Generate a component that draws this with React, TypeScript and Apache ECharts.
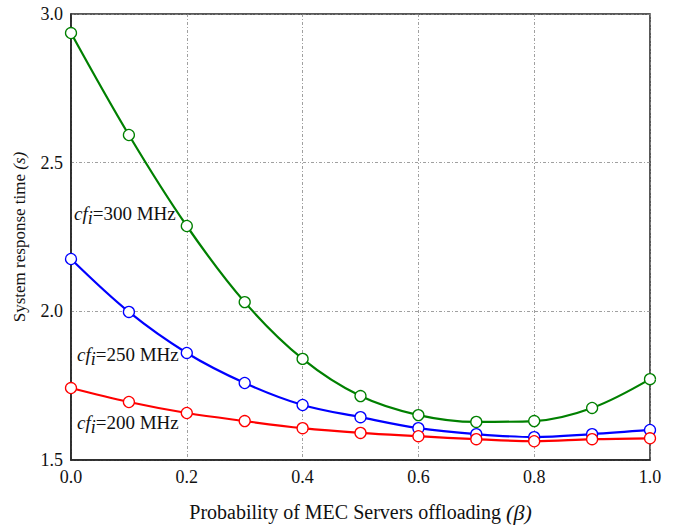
import React, { useEffect, useRef } from "react";
import * as echarts from "echarts";

const beta = [0.0, 0.1, 0.2, 0.3, 0.4, 0.5, 0.6, 0.7, 0.8, 0.9, 1.0];
const cf300 = [2.936, 2.593, 2.287, 2.031, 1.84, 1.715, 1.651, 1.628, 1.631, 1.675, 1.772];
const cf250 = [2.176, 1.998, 1.86, 1.759, 1.685, 1.644, 1.607, 1.587, 1.577, 1.587, 1.601];
const cf200 = [1.742, 1.695, 1.658, 1.631, 1.607, 1.591, 1.58, 1.57, 1.563, 1.57, 1.573];
const xTicks = [0.0, 0.2, 0.4, 0.6, 0.8, 1.0];
const yTicks = [1.5, 2.0, 2.5, 3.0];

const FONT = "Liberation Serif, DejaVu Serif, serif";

export default function App() {
  const ref = useRef<HTMLDivElement>(null);
  useEffect(() => {
    const chart = echarts.init(ref.current!, null, { renderer: "svg" });
    const mk = (name: string, data: number[], color: string) => ({
      name,
      type: "line",
      smooth: 0.35,
      data: beta.map((b, i) => [b, data[i]]),
      symbol: "circle",
      symbolSize: 11,
      showAllSymbol: true,
      lineStyle: { color, width: 2.2 },
      itemStyle: { color: "#fff", borderColor: color, borderWidth: 1.3 },
      z: 3,
    });
    const label = (txt: string, x: number, y: number) => ({
      type: "text",
      left: x,
      top: y,
      style: {
        text: `{it|cf}{sub|i}{n|=${txt}}`,
        rich: {
          it: { fontFamily: FONT, fontStyle: "italic", fontSize: 19, fill: "#111" },
          sub: { fontFamily: FONT, fontStyle: "italic", fontSize: 18, fill: "#111", padding: [9, 0, 0, 0] },
          n: { fontFamily: FONT, fontSize: 19, fill: "#111" },
        },
      },
    });
    chart.setOption({
      animation: false,
      grid: {
        left: 71,
        right: 24,
        top: 14,
        bottom: 67,
        show: true,
        borderColor: "#222",
        borderWidth: 1.5,
        containLabel: false,
        outerBoundsMode: "none",
      },
      xAxis: {
        type: "value",
        min: 0,
        max: 1,
        interval: 0.2,
        axisLine: { show: true, lineStyle: { color: "#222", width: 1.5 } },
        axisTick: { show: false },
        axisLabel: {
          fontFamily: FONT,
          fontSize: 18,
          color: "#111",
          margin: 8,
          formatter: (v: number) => (xTicks.some((t) => Math.abs(t - v) < 1e-9) ? v.toFixed(1) : ""),
        },
        splitLine: { show: true, lineStyle: { color: "#888", type: [3, 2, 1, 2], width: 0.8 } },
        name: "{a|Probability of MEC Servers offloading }{b|(β)}",
        nameLocation: "middle",
        nameGap: 41,
        nameTextStyle: {
          rich: {
            a: { fontFamily: FONT, fontSize: 20, color: "#111" },
            b: { fontFamily: FONT, fontSize: 22, fontStyle: "italic", color: "#111" },
          },
        },
      },
      yAxis: {
        type: "value",
        min: 1.5,
        max: 3.0,
        interval: 0.5,
        axisLine: { show: true, lineStyle: { color: "#222", width: 1.5 } },
        axisTick: { show: false },
        axisLabel: {
          fontFamily: FONT,
          fontSize: 18,
          color: "#111",
          margin: 8,
          formatter: (v: number) => (yTicks.some((t) => Math.abs(t - v) < 1e-9) ? v.toFixed(1) : ""),
        },
        splitLine: { show: true, lineStyle: { color: "#888", type: [3, 2, 1, 2], width: 0.8 } },
        name: "{a|System response time }{b|(s)}",
        nameLocation: "middle",
        nameGap: 43,
        nameRotate: 90,
        nameTextStyle: {
          rich: {
            a: { fontFamily: FONT, fontSize: 17, color: "#111" },
            b: { fontFamily: FONT, fontSize: 17, fontStyle: "italic", color: "#111" },
          },
        },
      },
      series: [mk("cf300", cf300, "#008000"), mk("cf250", cf250, "#0000ff"), mk("cf200", cf200, "#ff0000")],
      graphic: [label("300 MHz", 74, 204), label("250 MHz", 77, 345), label("200 MHz", 77, 413)],
    });
    return () => chart.dispose();
  }, []);
  return <div ref={ref} style={{ width: 674, height: 527, position: "absolute", left: 0, top: 0 }} />;
}
